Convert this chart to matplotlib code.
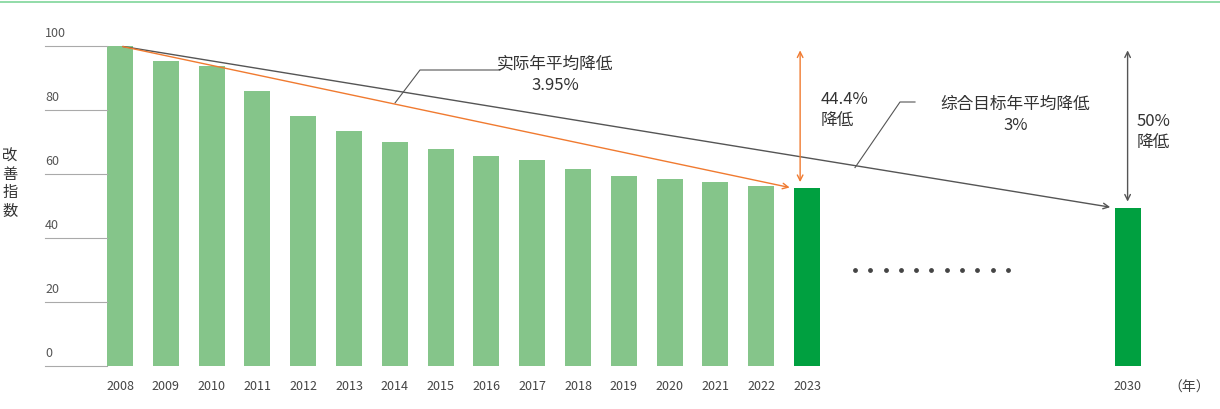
import matplotlib
matplotlib.use("Agg")
import matplotlib.pyplot as plt
from matplotlib import font_manager as fm
import numpy as np

cjk = None
for f in fm.findSystemFonts():
    n = f.lower()
    if "notosanscjk" in n.replace("-", "").replace("_", "") or "notosanssc" in n.replace("-", ""):
        if "regular" in n or cjk is None:
            cjk = f
if cjk:
    fm.fontManager.addfont(cjk)
    name = fm.FontProperties(fname=cjk).get_name()
    plt.rcParams["font.family"] = [name, "DejaVu Sans"]
else:
    plt.rcParams["font.family"] = ["Noto Sans CJK SC", "Noto Sans CJK JP", "DejaVu Sans"]

years = ["2008","2009","2010","2011","2012","2013","2014","2015","2016","2017","2018","2019","2020","2021","2022","2023","2030"]
values = [100,95.3,93.8,86,78,73.4,70,67.8,65.6,64.4,61.6,59.4,58.4,57.5,56.2,55.6,49.5]
xpos = list(range(16)) + [22]
colors = ["#85c58a"]*15 + ["#00a040","#00a040"]
yticks = [0,20,40,60,80,100]

fig = plt.figure(figsize=(12.2,4.09), dpi=100)
ax = fig.add_axes([0,0,1,1])
px = 45.8
ax.set_xlim(-120/px, (1220-120)/px)
ax.set_ylim(-(409-366)/3.2, 366/3.2)
ax.axis("off")

ax.bar(xpos, values, width=0.57, color=colors, zorder=2)
for t in yticks:
    ax.plot([-75/px, -13/px], [t, t], color="#aaaaaa", lw=0.8)
    ax.text(-75/px, t+2, str(t), fontsize=9, color="#555555", va="bottom", ha="left")
for x, y in zip(xpos, years):
    ax.text(x, -4.5, y, fontsize=9, color="#444444", ha="center", va="top")
ax.text(22.9, -4.5, "（年）", fontsize=10, color="#444444", ha="left", va="top")
ax.text(-110/px, 57, "改\n善\n指\n数", fontsize=11, color="#333333", ha="center", va="center", linespacing=1.1)
ax.axhline(113.8, color="#7fd59a", lw=1.2)

ax.annotate("", xy=(21.68, values[-1]), xytext=(0, 100),
            arrowprops=dict(arrowstyle="->", color="#555555", lw=1))
ax.annotate("", xy=(14.68, values[15]), xytext=(0, 100),
            arrowprops=dict(arrowstyle="->", color="#f07a30", lw=1))
ax.annotate("", xy=(14.85, 99.5), xytext=(14.85, values[15]+1),
            arrowprops=dict(arrowstyle="<->", color="#f07a30", lw=1))
ax.annotate("", xy=(22, 99.5), xytext=(22, values[-1]+1),
            arrowprops=dict(arrowstyle="<->", color="#555555", lw=1))
ax.plot([275/px, 300/px, 380/px], [82.2, 92.5, 92.5], color="#555555", lw=0.8)
ax.plot([735/px, 780/px, 795/px], [62, 82.5, 82.5], color="#555555", lw=0.8)

ax.text(9.5, 91, "实际年平均降低\n3.95%", fontsize=12, color="#333333", ha="center", va="center", linespacing=1.3)
ax.text(15.3, 80, "44.4%\n降低", fontsize=12, color="#333333", ha="left", va="center", linespacing=1.3)
ax.text(19.55, 78.5, "综合目标年平均降低\n3%", fontsize=12, color="#333333", ha="center", va="center", linespacing=1.3)
ax.text(22.2, 73, "50%\n降低", fontsize=12, color="#333333", ha="left", va="center", linespacing=1.3)

ax.scatter(np.linspace(735/px, 888/px, 11), [30]*11, s=6, color="#444444")

fig.savefig("out.png", dpi=100)
